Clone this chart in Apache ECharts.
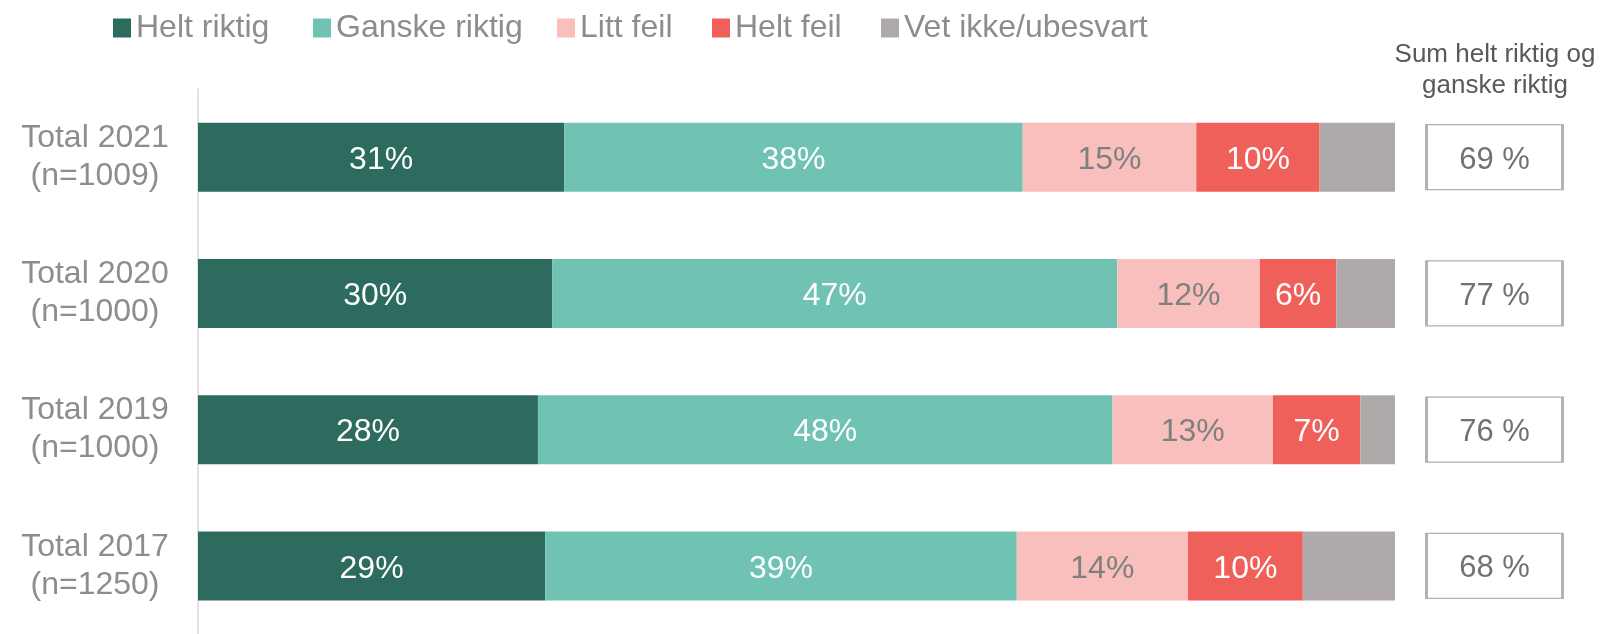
<!DOCTYPE html>
<html>
<head>
<meta charset="utf-8">
<script src="https://cdn.jsdelivr.net/npm/echarts@6/dist/echarts.min.js"></script>
<style>html,body{margin:0;padding:0;background:#fff}#c{width:1624px;height:634px}</style>
</head>
<body>
<div id="c"></div>
<script>
const years = ['Total 2021', 'Total 2020', 'Total 2019', 'Total 2017'];
const sampleSizes = ['n=1009', 'n=1000', 'n=1000', 'n=1250'];
const seriesNames = ['Helt riktig', 'Ganske riktig', 'Litt feil', 'Helt feil', 'Vet ikke/ubesvart'];
const heltRiktig = [30.6, 29.6, 28.4, 29.0];
const ganskeRiktig = [38.3, 47.2, 48.0, 39.4];
const littFeil = [14.5, 11.9, 13.4, 14.3];
const heltFeil = [10.3, 6.4, 7.3, 9.6];
const vetIkke = [6.3, 4.9, 2.9, 7.7];
const sumRiktig = [69, 77, 76, 68];
const sumHeader = 'Sum helt riktig og\nganske riktig';

const colors = ['#2d6b5e', '#70c3b3', '#f8bfbd', '#f0605b', '#afaaa9'];
const labelColors = ['#ffffff', '#ffffff', '#7f7f7f', '#ffffff', null];
const legendLeft = [113, 313, 557, 712, 881];
const FONT = "'Liberation Sans', Arial, sans-serif";
const categories = years.map((y, i) => y + '\n(' + sampleSizes[i] + ')');
const values = [heltRiktig, ganskeRiktig, littFeil, heltFeil, vetIkke];

const chart = echarts.init(document.getElementById('c'));
const barSeries = seriesNames.map((name, k) => ({
  name, type: 'bar', stack: 'total', xAxisIndex: 0, yAxisIndex: 0,
  barWidth: 69,
  data: values[k],
  itemStyle: { color: colors[k] },
  label: {
    show: labelColors[k] !== null,
    position: 'inside',
    offset: [0, 3],
    color: labelColors[k] || '#fff',
    fontFamily: FONT, fontSize: 32,
    formatter: p => Math.round(p.value) + '%'
  }
}));

const legends = seriesNames.map((name, k) => ({
  data: [name], left: legendLeft[k], top: 12, itemWidth: 18, itemHeight: 19, padding: 0,
  icon: 'rect',
  textStyle: { fontFamily: FONT, fontSize: 32, color: '#8d8d8d' }
}));

chart.setOption({
  animation: false,
  textStyle: { fontFamily: FONT },
  title: {
    text: sumHeader, left: 1495, top: 39, textAlign: 'center', padding: 0,
    textStyle: { fontFamily: FONT, fontSize: 26, lineHeight: 31, fontWeight: 'normal', color: '#595959' }
  },
  legend: legends,
  grid: [
    { left: 198, width: 1197, top: 89, height: 552 },
    { left: 1426, width: 137, top: 89, height: 552 }
  ],
  xAxis: [
    { type: 'value', gridIndex: 0, min: 0, max: 100, show: false },
    { type: 'value', gridIndex: 1, min: 0, max: 1, show: false }
  ],
  yAxis: [
    {
      type: 'category', gridIndex: 0, data: categories, inverse: true,
      axisLine: { show: true, lineStyle: { color: '#d9d9d9', width: 1.5 } },
      axisTick: { show: false },
      axisLabel: { fontFamily: FONT, fontSize: 32, lineHeight: 38, color: '#8d8d8d', align: 'center', margin: 103, padding: [12, 0, 0, 0] }
    },
    { type: 'category', gridIndex: 1, data: categories, inverse: true, show: false }
  ],
  series: barSeries.concat([{
    type: 'scatter', xAxisIndex: 1, yAxisIndex: 1,
    symbol: 'rect', symbolSize: [136, 65],
    data: sumRiktig.map((v, i) => [0.5, i, v]),
    itemStyle: { color: '#ffffff', borderColor: '#b3b0ae', borderWidth: 2, opacity: 1 },
    label: {
      show: true, position: 'inside', offset: [0, 3], fontFamily: FONT, fontSize: 31, color: '#767171',
      formatter: p => p.value[2] + ' %'
    },
    silent: true
  }])
});
</script>
</body>
</html>
